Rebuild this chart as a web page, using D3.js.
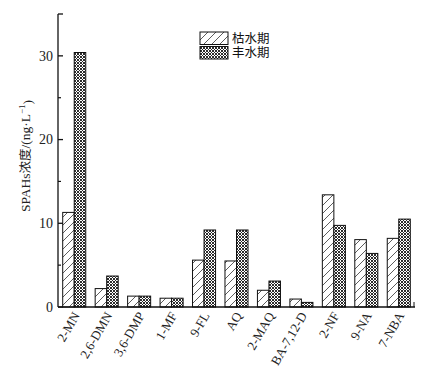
<!DOCTYPE html>
<html><head><meta charset="utf-8">
<script src="https://cdn.jsdelivr.net/npm/d3@7/dist/d3.min.js"></script>
<style>body{margin:0;background:#fff}</style>
</head><body>
<svg id="c" width="438" height="378"></svg>
<script>
const categories = ["2-MN","2,6-DMN","3,6-DMP","1-MF","9-FL","AQ","2-MAQ","BA-7,12-D","2-NF","9-NA","7-NBA"];
const dry = [11.3,2.2,1.3,1.05,5.6,5.5,2.0,0.95,13.4,8.05,8.2];
const wet = [30.4,3.7,1.3,1.05,9.2,9.2,3.1,0.55,9.75,6.4,10.5];
const seriesNames = ["枯水期","丰水期"];
const yTicks = [0,10,20,30];
const yMinor = [5,15,25];

const svg = d3.select("#c");
const m = {l:58, r:415, t:14, b:307};
const serif = "'Liberation Serif','Times New Roman',serif";
const cjk = "'Noto Sans CJK SC',sans-serif";
const mixed = "'Liberation Serif','Noto Sans CJK SC',serif";

const defs = svg.append("defs");
const ph = defs.append("pattern").attr("id","hatch").attr("patternUnits","userSpaceOnUse")
  .attr("width",8).attr("height",8);
ph.append("rect").attr("width",8).attr("height",8).attr("fill","#fff");
ph.append("path").attr("d","M-2,2 L2,-2 M0,8 L8,0 M6,10 L10,6").attr("stroke","#333").attr("stroke-width",0.8);
const pc = defs.append("pattern").attr("id","cross").attr("patternUnits","userSpaceOnUse")
  .attr("width",3).attr("height",3);
pc.append("rect").attr("width",3).attr("height",3).attr("fill","#fff");
pc.append("path").attr("d","M0,0 L3,3 M3,0 L0,3").attr("stroke","#222").attr("stroke-width",0.95);

const x = d3.scaleBand().domain(categories).range([m.l, m.r]).paddingInner(0.29).paddingOuter(0.145);
const xs = d3.scaleBand().domain([0,1]).range([0, x.bandwidth()]);
const y = d3.scaleLinear().domain([0,35]).range([m.b, m.t]);

const g = svg.append("g");
categories.forEach((c,i)=>{
  [dry[i], wet[i]].forEach((v,j)=>{
    g.append("rect").attr("x", x(c)+xs(j)).attr("width", xs.bandwidth())
      .attr("y", y(v)).attr("height", y(0)-y(v))
      .attr("fill", j===0?"url(#hatch)":"url(#cross)")
      .attr("stroke","#111").attr("stroke-width",1);
  });
});

// y axis
const ya = svg.append("g");
ya.append("line").attr("x1",m.l).attr("x2",m.l).attr("y1",m.t).attr("y2",m.b).attr("stroke","#111").attr("stroke-width",1.3);
ya.append("line").attr("x1",m.l).attr("x2",m.l+5).attr("y1",m.t).attr("y2",m.t).attr("stroke","#111").attr("stroke-width",1.3);
yTicks.forEach(t=>{
  ya.append("line").attr("x1",m.l).attr("x2",m.l+5).attr("y1",y(t)).attr("y2",y(t)).attr("stroke","#111").attr("stroke-width",1.3);
  ya.append("text").attr("x",m.l-5).attr("y",y(t)).attr("dy","0.35em").attr("text-anchor","end")
    .attr("font-family",serif).attr("font-size",14).attr("fill","#222").text(t);
});
yMinor.forEach(t=>{
  ya.append("line").attr("x1",m.l).attr("x2",m.l+3).attr("y1",y(t)).attr("y2",y(t)).attr("stroke","#111").attr("stroke-width",1.2);
});

// x axis
const xa = svg.append("g");
xa.append("line").attr("x1",m.l).attr("x2",m.r).attr("y1",m.b).attr("y2",m.b).attr("stroke","#111").attr("stroke-width",1.5);
xa.append("line").attr("x1",m.r-1).attr("x2",m.r-1).attr("y1",m.b).attr("y2",m.b-5).attr("stroke","#111").attr("stroke-width",1);
categories.forEach(c=>{
  const cx = x(c)+x.bandwidth()/2+2;
  xa.append("text").attr("transform",`translate(${cx},${m.b+6}) rotate(-60)`)
    .attr("text-anchor","end").attr("dy","0.35em")
    .attr("font-family",serif).attr("font-size",13).attr("fill","#222").text(c);
});

// y label
const yl = svg.append("text").attr("transform","translate(25,156) rotate(-90)")
  .attr("text-anchor","middle").attr("dy","0.35em").attr("font-size",13.5).attr("fill","#222");
yl.append("tspan").attr("font-family",serif).text("SPAHs");
yl.append("tspan").attr("font-family",cjk).attr("font-size",12.5).text("浓度");
yl.append("tspan").attr("font-family",serif).text("/(ng·L");
yl.append("tspan").attr("font-family",serif).attr("font-size",9).attr("dy","-0.5em").text("−1");
yl.append("tspan").attr("font-family",serif).attr("dy","0.5em").text(")");

// legend
const lg = svg.append("g");
seriesNames.forEach((n,i)=>{
  const ly = 32 + i*14.5;
  lg.append("rect").attr("x",200).attr("y",ly).attr("width",28).attr("height",12.5)
    .attr("fill", i===0?"url(#hatch)":"url(#cross)").attr("stroke","#111").attr("stroke-width",1);
  lg.append("text").attr("x",232).attr("y",ly+6.5).attr("dy","0.35em")
    .attr("font-family",mixed).attr("font-size",12.5).attr("fill","#111").text(n);
});
</script>
</body></html>
